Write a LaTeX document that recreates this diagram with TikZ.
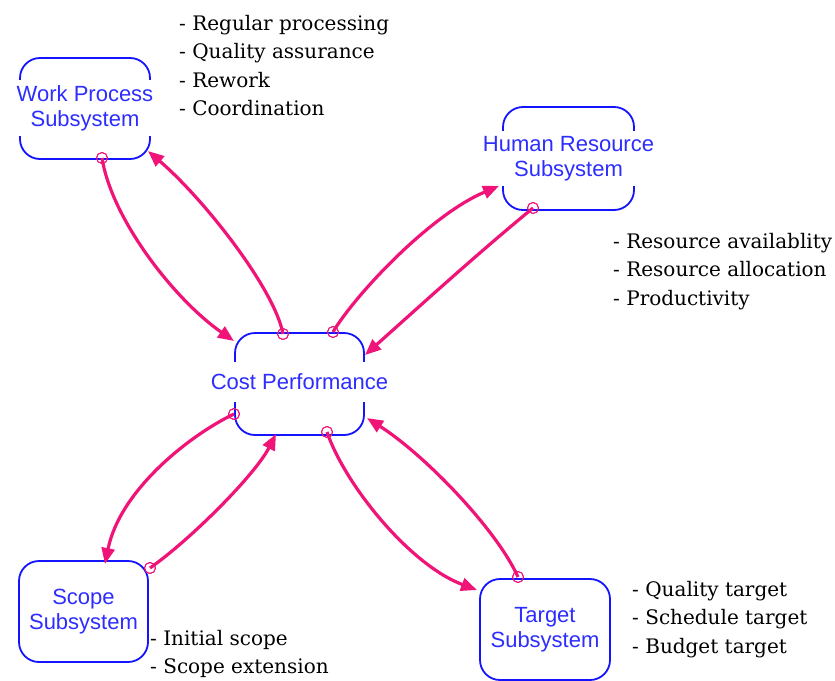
\documentclass[tikz,border=0pt]{standalone}
\usepackage{fontspec}
\setmainfont{Liberation Serif}
\newfontfamily\labelfont{Liberation Sans}
\newfontfamily\listfont{DejaVu Serif}
\usetikzlibrary{arrows.meta}

\definecolor{boxblue}{RGB}{20,20,255}
\definecolor{labelblue}{RGB}{45,45,255}
\definecolor{linkpink}{RGB}{240,20,120}

\begin{document}
\begin{tikzpicture}[x=1pt,y=-1pt,
  sysbox/.style={draw=boxblue, line width=1.8pt, rounded corners=20pt, inner sep=0pt},
  syslabel/.style={font=\labelfont\fontsize{22}{25}\selectfont, text=labelblue,
    align=center, fill=white, inner xsep=1pt, inner ysep=5pt},
  itemlist/.style={font=\listfont\fontsize{20}{28.5}\selectfont, align=left,
    anchor=base west, inner sep=0pt},
  tailmark/.style={circle, draw=linkpink, line width=0.9pt, minimum size=11pt, inner sep=0pt},
  link/.style={draw=linkpink, line width=3.2pt, -{Triangle[length=16pt,width=13pt]}}]

\useasboundingbox (0,0) rectangle (835,680);
\fill[white] (0,0) rectangle (835,680);

% subsystem boxes
\node[sysbox, minimum width=130pt, minimum height=101pt] (wp) at (85,108.5) {};
\node[sysbox, minimum width=131pt, minimum height=103pt] (hr) at (568.5,158.5) {};
\node[sysbox, minimum width=129pt, minimum height=102pt] (cp) at (299.5,384) {};
\node[sysbox, minimum width=129pt, minimum height=101pt] (sc) at (83.5,611.5) {};
\node[sysbox, minimum width=130pt, minimum height=101pt] (tg) at (545,629.5) {};

% box labels
\node[syslabel] (wpl) at (85,108) {Work Process\\Subsystem};
\node[syslabel] (hrl) at (568.5,158.5) {Human Resource\\Subsystem};
\node[syslabel, inner ysep=12pt] (cpl) at (299.5,382) {Cost Performance};
\node[syslabel] (scl) at (83.5,612) {Scope\\Subsystem};
\node[syslabel] (tgl) at (545,629.5) {Target\\Subsystem};

% factor lists (anchored at the baseline of the last line)
\node[itemlist] (wpn) at (179,115.5) {- Regular processing\\- Quality assurance\\- Rework\\- Coordination};
\node[itemlist] (hrn) at (613,305) {- Resource availablity\\- Resource allocation\\- Productivity};
\node[itemlist, fill=white, inner xsep=1pt] (scn) at (149,673.5) {- Initial scope\\- Scope extension};
\node[itemlist] (tgn) at (632,653) {- Quality target\\- Schedule target\\- Budget target};

% link tails
\node[tailmark] (t1) at (102,158) {};
\node[tailmark] (t2) at (283,334) {};
\node[tailmark] (t3) at (333,332) {};
\node[tailmark] (t4) at (533,208) {};
\node[tailmark] (t5) at (234,414) {};
\node[tailmark] (t6) at (150,568) {};
\node[tailmark] (t7) at (327,432) {};
\node[tailmark] (t8) at (518,577) {};

% link heads
\coordinate (h1) at (234,341);
\coordinate (h2) at (148,151);
\coordinate (h3) at (499,186);
\coordinate (h4) at (365,355);
\coordinate (h5) at (105,564);
\coordinate (h6) at (276,434);
\coordinate (h7) at (477,590);
\coordinate (h8) at (367,418);

% causal links
\draw[link] (t1.center) .. controls (112,220) and (175,300) .. (h1);
\draw[link] (t2.center) .. controls (275,290) and (205,200) .. (h2);
\draw[link] (t3.center) .. controls (355,295) and (430,215) .. (h3);
\draw[link] (t4.center) .. controls (477,254) and (421,305) .. (h4);
\draw[link] (t5.center) .. controls (190,435) and (120,490) .. (h5);
\draw[link] (t6.center) .. controls (190,540) and (255,475) .. (h6);
\draw[link] (t7.center) .. controls (345,485) and (410,565) .. (h7);
\draw[link] (t8.center) .. controls (497,530) and (425,455) .. (h8);

% redraw tail circles above the links
\foreach \t in {t1,t2,t3,t4,t5,t6,t7,t8}
  \draw[linkpink, line width=0.9pt] (\t) circle (5.5pt);
\end{tikzpicture}
\end{document}
